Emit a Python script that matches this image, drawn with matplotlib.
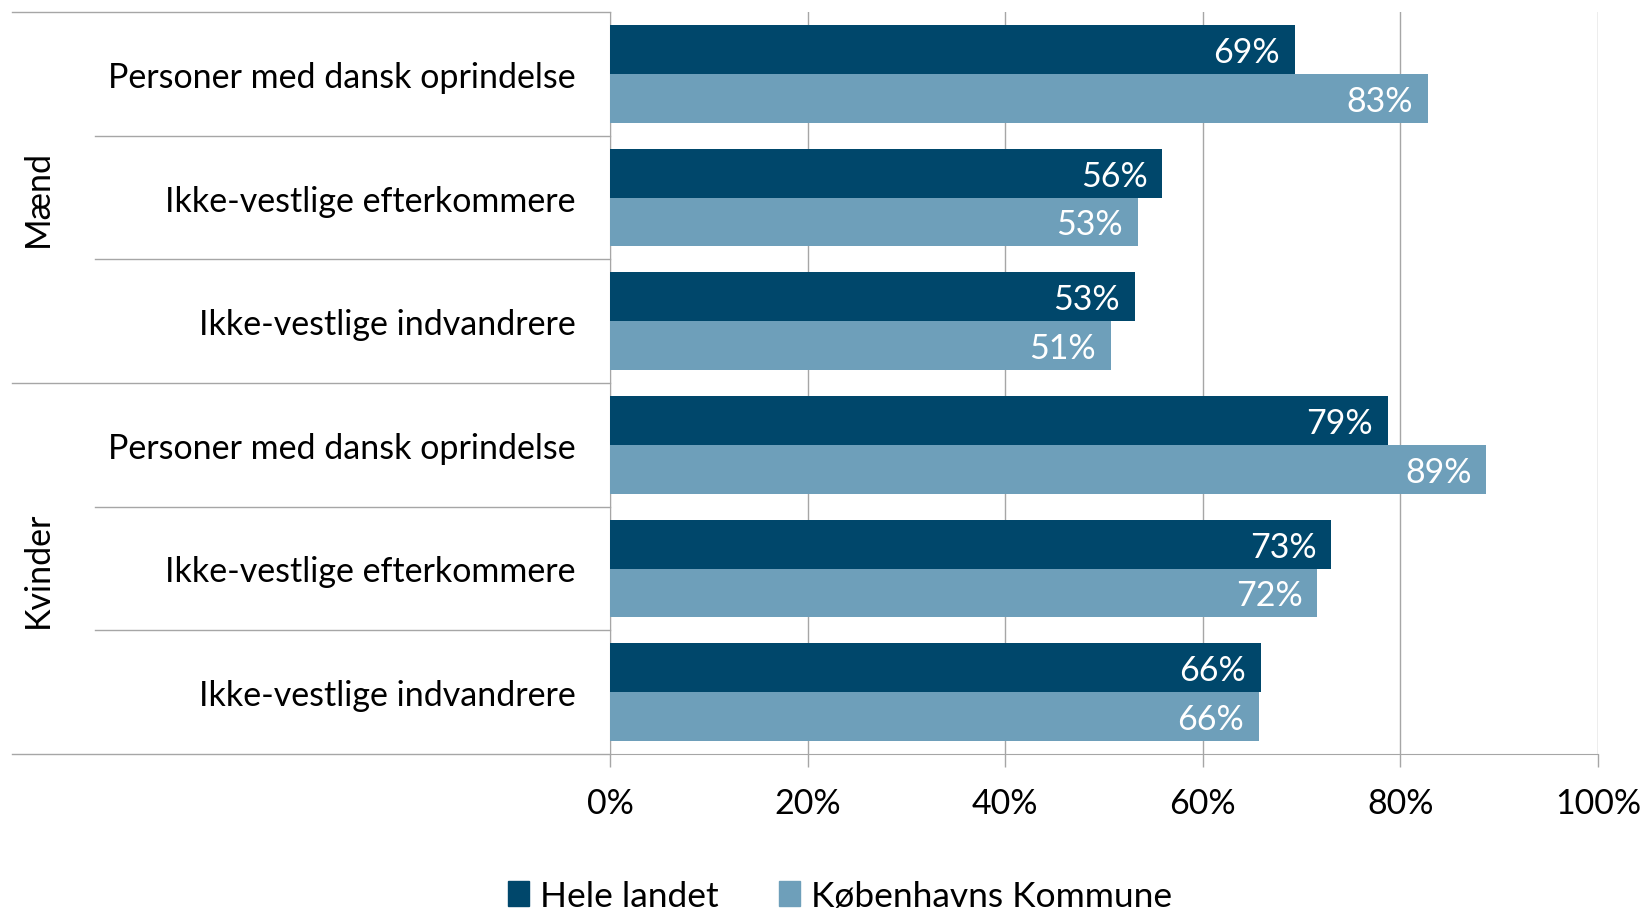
import matplotlib
matplotlib.use("Agg")
import matplotlib.pyplot as plt
import matplotlib.transforms as mtransforms
from matplotlib.lines import Line2D
from matplotlib.patches import Patch

plt.rcParams["font.family"] = ["Lato", "DejaVu Sans"]

groups = ["Mænd", "Kvinder"]
categories = [
    "Personer med dansk oprindelse",
    "Ikke-vestlige efterkommere",
    "Ikke-vestlige indvandrere",
    "Personer med dansk oprindelse",
    "Ikke-vestlige efterkommere",
    "Ikke-vestlige indvandrere",
]
hele_landet = [69.3, 55.9, 53.1, 78.7, 73.0, 65.9]
kobenhavn = [82.8, 53.4, 50.7, 88.7, 71.6, 65.7]
series_names = ["Hele landet", "Københavns Kommune"]
x_ticks = [0, 20, 40, 60, 80, 100]

DARK = "#00476B"
LIGHT = "#6E9FBA"
GRID = "#A6A6A6"
FS = 24.5

W, H = 1645, 912
fig = plt.figure(figsize=(W / 100, H / 100), dpi=100)
ax = fig.add_axes([610 / W, 1 - 755 / H, (1598 - 610) / W, (755 - 13) / H])

n = len(categories)
ypos = list(range(n))
h = 0.395
ax.barh([y - h / 2 for y in ypos], hele_landet, height=h, color=DARK, zorder=3)
ax.barh([y + h / 2 for y in ypos], kobenhavn, height=h, color=LIGHT, zorder=3)

for y, v in zip(ypos, hele_landet):
    ax.text(v - 1.5, y - h / 2 + 0.02, f"{round(v)}%", color="white", fontsize=FS,
            ha="right", va="center", zorder=4)
for y, v in zip(ypos, kobenhavn):
    ax.text(v - 1.5, y + h / 2 + 0.02, f"{round(v)}%", color="white", fontsize=FS,
            ha="right", va="center", zorder=4)

ax.set_xlim(0, 100)
ax.set_ylim(n - 0.5, -0.5)
ax.set_xticks(x_ticks)
ax.set_xticklabels([f"{t}%" for t in x_ticks], fontsize=FS)
ax.tick_params(axis="x", length=9, width=1, color=GRID, pad=15)
ax.set_yticks(ypos)
ax.set_yticklabels(categories, fontsize=FS)
ax.tick_params(axis="y", length=0, pad=25)
ax.grid(axis="x", color=GRID, linewidth=1, zorder=0)
for side in ["top", "right"]:
    ax.spines[side].set_visible(False)
ax.spines["left"].set_color(GRID)
ax.spines["bottom"].set_color(GRID)

# category separators in the label area
trans = mtransforms.blended_transform_factory(fig.transFigure, ax.transData)
for k in range(n + 1):
    yb = k - 0.5
    x0 = 12 / W if k % 3 == 0 else 95 / W
    fig.add_artist(Line2D([x0, 610 / W], [yb, yb], transform=trans,
                          color=GRID, linewidth=1))

# group labels
for i, g in enumerate(groups):
    yc = i * 3 + 1
    ax.text(38 / W, yc, g, transform=trans, rotation=90, fontsize=FS,
            ha="center", va="center")

handles = [Patch(color=DARK), Patch(color=LIGHT)]
fig.legend(handles, series_names, loc="center", bbox_to_anchor=(840 / W, 1 - 897 / H),
           ncol=2, frameon=False, fontsize=25.5, handlelength=0.6, handleheight=0.7,
           handletextpad=0.3, columnspacing=1.7)

fig.savefig("out.png", dpi=100)
